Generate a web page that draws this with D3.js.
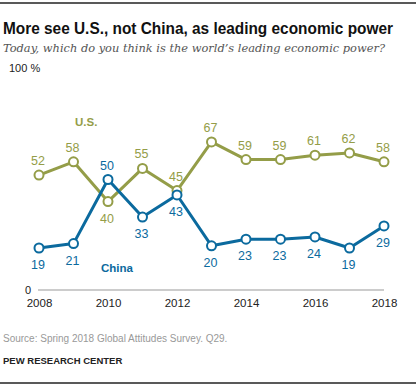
<!DOCTYPE html>
<html>
<head>
<meta charset="utf-8">
<script src="https://cdn.jsdelivr.net/npm/d3@7"></script>
<style>
  body { margin: 0; background: #fff; }
  text { font-family: "Liberation Sans", Arial, sans-serif; }
</style>
</head>
<body>
<svg id="chart" width="416" height="388"></svg>
<script>
// survey years and shares naming each country
var years = [2008, 2009, 2010, 2011, 2012, 2013, 2014, 2015, 2016, 2017, 2018];
var usValues = [52, 58, 40, 55, 45, 67, 59, 59, 61, 62, 58];
var chinaValues = [19, 21, 50, 33, 43, 20, 23, 23, 24, 19, 29];
var yearTicks = [2008, 2010, 2012, 2014, 2016, 2018];

var usColor = '#949d48';
var chinaColor = '#0b6a9e';

var svg = d3.select('#chart');
var width = 416, height = 388;

var x = d3.scaleLinear().domain([2008, 2018]).range([39, 384]);
var y = d3.scaleLinear().domain([0, 100]).range([290, 69]);

// rules top and bottom
svg.append('line').attr('x1', 0).attr('x2', width).attr('y1', 3).attr('y2', 3)
    .attr('stroke', '#222').attr('stroke-width', 1.5);
svg.append('line').attr('x1', 0).attr('x2', width).attr('y1', 383).attr('y2', 383)
    .attr('stroke', '#222').attr('stroke-width', 1.5);

svg.append('text').attr('x', 3).attr('y', 34)
    .style('font-size', '16px').style('font-weight', 'bold').attr('fill', '#111')
    .attr('textLength', 390).attr('lengthAdjust', 'spacingAndGlyphs')
    .text('More see U.S., not China, as leading economic power');
svg.append('text').attr('x', 3).attr('y', 52)
    .style('font-family', '"DejaVu Serif", Georgia, serif').style('font-style', 'italic')
    .style('font-size', '11.5px').attr('fill', '#555')
    .attr('textLength', 382).attr('lengthAdjust', 'spacingAndGlyphs')
    .text('Today, which do you think is the world\u2019s leading economic power?');

// y axis labels
svg.append('text').attr('x', 9).attr('y', y(100) + 3).style('font-size', '11px').attr('fill', '#222')
    .text('100 %');
svg.append('text').attr('x', 25).attr('y', y(0) + 4).style('font-size', '11px').attr('fill', '#222')
    .text('0');

// x axis
var xAxis = d3.axisBottom(x).tickValues(yearTicks).tickFormat(d3.format('d')).tickSize(0).tickPadding(9);
var gx = svg.append('g').attr('transform', 'translate(0,' + y(0) + ')').call(xAxis);
gx.select('.domain').attr('stroke', '#999').attr('d', 'M38,0H384');
gx.selectAll('text').style('font-size', '11.5px').attr('fill', '#222')
    .style('font-family', '"Liberation Sans", Arial, sans-serif');

var line = d3.line().x(function(d, i) { return x(years[i]); }).y(function(d) { return y(d); });

function drawSeries(values, color, labelPos) {
    svg.append('path').datum(values).attr('d', line)
        .attr('fill', 'none').attr('stroke', color).attr('stroke-width', 3).attr('stroke-linejoin', 'round');
    svg.selectAll(null).data(values).enter().append('circle')
        .attr('cx', function(d, i) { return x(years[i]); })
        .attr('cy', function(d) { return y(d); })
        .attr('r', 4.5).attr('fill', '#fff').attr('stroke', color).attr('stroke-width', 2);
    svg.selectAll(null).data(values).enter().append('text')
        .attr('x', function(d, i) { return x(years[i]) - 1; })
        .attr('y', function(d, i) { return y(d) + (labelPos[i] === 'above' ? -10 : 21); })
        .attr('text-anchor', 'middle').style('font-size', '12.5px').attr('fill', color)
        .text(function(d) { return d; });
}

drawSeries(usValues, usColor,
    ['above', 'above', 'below', 'above', 'above', 'above', 'above', 'above', 'above', 'above', 'above']);
drawSeries(chinaValues, chinaColor,
    ['below', 'below', 'above', 'below', 'below', 'below', 'below', 'below', 'below', 'below', 'below']);

svg.append('text').attr('x', 75).attr('y', 126).style('font-size', '11.5px').style('font-weight', 'bold')
    .attr('fill', usColor).text('U.S.');
svg.append('text').attr('x', 101).attr('y', 272).style('font-size', '11.5px').style('font-weight', 'bold')
    .attr('fill', chinaColor).text('China');

svg.append('text').attr('x', 3).attr('y', 342).style('font-size', '10px').attr('fill', '#999')
    .text('Source: Spring 2018 Global Attitudes Survey. Q29.');
svg.append('text').attr('x', 3).attr('y', 364).style('font-size', '9.5px').style('font-weight', 'bold')
    .attr('fill', '#222').text('PEW RESEARCH CENTER');
</script>
</body>
</html>
